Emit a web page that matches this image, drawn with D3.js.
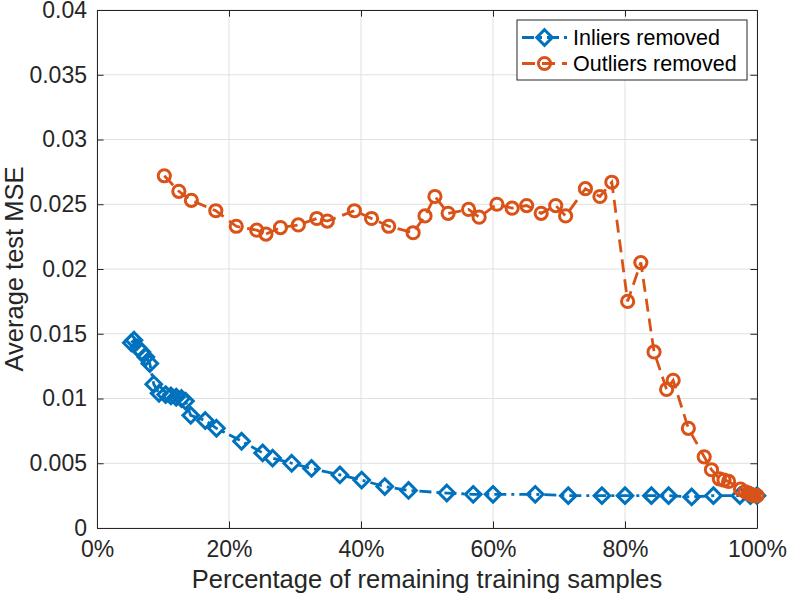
<!DOCTYPE html>
<html>
<head>
<meta charset="utf-8">
<script src="https://cdn.jsdelivr.net/npm/d3@7"></script>
<style>
  html, body { margin: 0; padding: 0; background: #fff; }
  svg { display: block; font-family: "Liberation Sans", Arial, Helvetica, sans-serif; }
</style>
</head>
<body>
<svg id="chart" width="789" height="598"></svg>
<script>
// ---- data ----
const inliersX = [5.2, 5.6, 6.2, 6.8, 7.4, 8.0, 8.6, 9.4, 10.4, 11.2, 12.0, 12.8, 13.4, 14.2, 16.4, 18.1, 21.9, 25.1, 26.6, 29.5, 32.5, 36.8, 40.1, 43.6, 47.2, 53.0, 57.0, 60.0, 66.4, 71.4, 76.5, 80.0, 84.0, 86.6, 90.1, 93.4, 97.4, 99.0, 100.0];
const inliersY = [0.0143, 0.0145, 0.0139, 0.0136, 0.0132, 0.0127, 0.0111, 0.0104, 0.0103, 0.0102, 0.0101, 0.0100, 0.0098, 0.0087, 0.0083, 0.0077, 0.0067, 0.0058, 0.0054, 0.0050, 0.0046, 0.0041, 0.0037, 0.0032, 0.0029, 0.0027, 0.0026, 0.0026, 0.0026, 0.0025, 0.0025, 0.0025, 0.0025, 0.0025, 0.0024, 0.0025, 0.0025, 0.0025, 0.0025];
const outliersX = [10.2, 12.4, 14.3, 18.0, 21.1, 24.2, 25.6, 27.8, 30.5, 33.3, 34.9, 39.0, 41.6, 44.2, 47.9, 49.7, 51.2, 53.2, 56.3, 57.9, 60.6, 62.9, 65.1, 67.3, 69.5, 71.0, 74.0, 76.2, 78.0, 80.4, 82.4, 84.4, 86.3, 87.3, 89.6, 92.0, 93.1, 94.3, 95.0, 95.7, 97.5, 98.2, 98.7, 99.1, 99.5, 100.0];
const outliersY = [0.0272, 0.0260, 0.0253, 0.0245, 0.0233, 0.0230, 0.0227, 0.0232, 0.0234, 0.0239, 0.0237, 0.0245, 0.0239, 0.0233, 0.0228, 0.0241, 0.0256, 0.0243, 0.0246, 0.0240, 0.0250, 0.0247, 0.0249, 0.0243, 0.0249, 0.0241, 0.0262, 0.0256, 0.0267, 0.0175, 0.0205, 0.0136, 0.0107, 0.0114, 0.0077, 0.0055, 0.0045, 0.0038, 0.0037, 0.0036, 0.0030, 0.0028, 0.0027, 0.0026, 0.0025, 0.0025];
const xTicks = [0, 20, 40, 60, 80, 100];
const xTickLabels = ["0%", "20%", "40%", "60%", "80%", "100%"];
const yTicks = [0, 0.005, 0.01, 0.015, 0.02, 0.025, 0.03, 0.035, 0.04];
const yTickLabels = ["0", "0.005", "0.01", "0.015", "0.02", "0.025", "0.03", "0.035", "0.04"];
const seriesNames = ["Inliers removed", "Outliers removed"];
const xLabel = "Percentage of remaining training samples";
const yLabel = "Average test MSE";

// ---- layout ----
const L = 97, R = 757, T = 10, B = 528;
const blue = "#0072BD", orange = "#D95319", axisCol = "#262626", gridCol = "#e0e0e0";
const svg = d3.select("#chart");
const x = d3.scaleLinear().domain([0, 100]).range([L, R]);
const y = d3.scaleLinear().domain([0, 0.04]).range([B, T]);

// grid
const g = svg.append("g");
g.selectAll(".vg").data(xTicks).join("line")
  .attr("x1", d => x(d)).attr("x2", d => x(d)).attr("y1", T).attr("y2", B)
  .attr("stroke", gridCol).attr("stroke-width", 1);
g.selectAll(".hg").data(yTicks).join("line")
  .attr("x1", L).attr("x2", R).attr("y1", d => y(d)).attr("y2", d => y(d))
  .attr("stroke", gridCol).attr("stroke-width", 1);

// axes (ticks inward)
const tl = 6.6;
const xAxis = d3.axisBottom(x).tickValues(xTicks).tickFormat((d, i) => xTickLabels[i]).tickSizeInner(-tl).tickSizeOuter(0).tickPadding(13);
const yAxis = d3.axisLeft(y).tickValues(yTicks).tickFormat((d, i) => yTickLabels[i]).tickSizeInner(-tl).tickSizeOuter(0).tickPadding(10);
const xTop = d3.axisTop(x).tickValues(xTicks).tickFormat("").tickSizeInner(-tl).tickSizeOuter(0);
const yRight = d3.axisRight(y).tickValues(yTicks).tickFormat("").tickSizeInner(-tl).tickSizeOuter(0);

function styleAxis(sel) {
  sel.selectAll("path").attr("stroke", axisCol).attr("stroke-width", 1);
  sel.selectAll("line").attr("stroke", axisCol).attr("stroke-width", 1);
  sel.selectAll("text").attr("fill", axisCol).style("font-size", "23px").style("font-family", "'Liberation Sans', Arial, sans-serif");
}
const gx = svg.append("g").attr("transform", `translate(0,${B})`).call(xAxis).call(styleAxis);
gx.selectAll("text").attr("dy", "0.71em");
const gy = svg.append("g").attr("transform", `translate(${L},0)`).call(yAxis).call(styleAxis);
svg.append("g").attr("transform", `translate(0,${T})`).call(xTop).call(styleAxis);
svg.append("g").attr("transform", `translate(${R},0)`).call(yRight).call(styleAxis);

// axis labels
svg.append("text").attr("x", (L + R) / 2).attr("y", 588).attr("text-anchor", "middle")
  .attr("fill", axisCol).style("font-size", "25.5px").text(xLabel);
svg.append("text").attr("transform", `translate(23,${(T + B) / 2}) rotate(-90)`).attr("text-anchor", "middle")
  .attr("fill", axisCol).style("font-size", "25.5px").text(yLabel);

// series
const inl = inliersX.map((d, i) => [d, inliersY[i]]);
const outl = outliersX.map((d, i) => [d, outliersY[i]]);
const line = d3.line().x(d => x(d[0])).y(d => y(d[1]));
const diamond = s => `M0,${-s}L${s},0L0,${s}L${-s},0Z`;
const lw = 2.8, mw = 3, ds = 7.8, cr = 6.1;

svg.append("path").datum(inl).attr("d", line).attr("fill", "none")
  .attr("stroke", blue).attr("stroke-width", lw).attr("stroke-dasharray", "12,5,3,5");
svg.append("g").selectAll("path").data(inl).join("path")
  .attr("transform", d => `translate(${x(d[0])},${y(d[1])})`)
  .attr("d", diamond(ds)).attr("fill", "none").attr("stroke", blue).attr("stroke-width", mw);

svg.append("path").datum(outl).attr("d", line).attr("fill", "none")
  .attr("stroke", orange).attr("stroke-width", lw).attr("stroke-dasharray", "13,7");
svg.append("g").selectAll("circle").data(outl).join("circle")
  .attr("cx", d => x(d[0])).attr("cy", d => y(d[1])).attr("r", cr)
  .attr("fill", "none").attr("stroke", orange).attr("stroke-width", mw);

// legend
const lg = svg.append("g");
lg.append("rect").attr("x", 517).attr("y", 20).attr("width", 230).attr("height", 60)
  .attr("fill", "#fff").attr("stroke", axisCol).attr("stroke-width", 1);
const rows = [
  { name: seriesNames[0], col: blue, dash: "12,5,3,5", mk: "d", yy: 37.5 },
  { name: seriesNames[1], col: orange, dash: "13,7", mk: "o", yy: 63.5 }
];
rows.forEach(r => {
  lg.append("line").attr("x1", 522).attr("x2", 567).attr("y1", r.yy).attr("y2", r.yy)
    .attr("stroke", r.col).attr("stroke-width", lw).attr("stroke-dasharray", r.dash);
  if (r.mk === "d") {
    lg.append("path").attr("transform", `translate(544.5,${r.yy})`).attr("d", diamond(ds))
      .attr("fill", "none").attr("stroke", r.col).attr("stroke-width", mw);
  } else {
    lg.append("circle").attr("cx", 544.5).attr("cy", r.yy).attr("r", cr)
      .attr("fill", "none").attr("stroke", r.col).attr("stroke-width", mw);
  }
  lg.append("text").attr("x", 573).attr("y", r.yy).attr("dy", "0.36em")
    .attr("fill", "#000").style("font-size", "21.5px").text(r.name);
});
</script>
</body>
</html>
